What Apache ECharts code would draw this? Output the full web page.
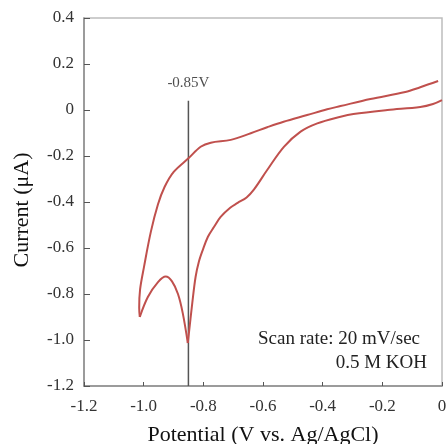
<!DOCTYPE html>
<html><head><meta charset="utf-8">
<script src="https://cdn.jsdelivr.net/npm/echarts@6/dist/echarts.min.js"></script>
<style>html,body{margin:0;padding:0;background:#fff}#c{width:446px;height:444px}</style>
</head><body><div id="c"></div>
<script>
// Forward (cathodic) scan: from 0 V toward -1.01 V
var forwardScan = [[-0.013,0.126],[-0.073,0.099],[-0.123,0.078],[-0.24,0.048],[-0.34,0.017],[-0.385,0.003],[-0.452,-0.022],[-0.531,-0.051],[-0.586,-0.075],[-0.641,-0.101],[-0.708,-0.130],[-0.775,-0.142],[-0.809,-0.160],[-0.849,-0.209],[-0.9,-0.27],[-0.93,-0.335],[-0.952,-0.41],[-0.976,-0.53],[-0.999,-0.683],[-1.012,-0.78],[-1.015,-0.86],[-1.013,-0.9]];
// Reverse scan, first part: vertex up to the small hump and down to the -0.85 V peak
var reverseScanA = [[-1.013,-0.9],[-0.986,-0.813],[-0.952,-0.748],[-0.926,-0.724],[-0.905,-0.745],[-0.885,-0.8],[-0.869,-0.883],[-0.852,-1.013]];
// Reverse scan, second part: from the peak back to 0 V
var reverseScanB = [[-0.852,-1.013],[-0.837,-0.839],[-0.826,-0.726],[-0.815,-0.66],[-0.802,-0.609],[-0.785,-0.552],[-0.765,-0.51],[-0.742,-0.465],[-0.71,-0.425],[-0.685,-0.404],[-0.655,-0.38],[-0.630,-0.345],[-0.586,-0.261],[-0.530,-0.16],[-0.474,-0.094],[-0.418,-0.058],[-0.34,-0.029],[-0.297,-0.017],[-0.183,0.0],[-0.073,0.013],[-0.03,0.026],[0,0.043]];
var peakMarker = [[-0.85,-1.2],[-0.85,0.04]];
var peakLabel = '-0.85V';
var noteLines = ['Scan rate: 20 mV/sec','0.5 M KOH'];
var xTitle = 'Potential (V vs. Ag/AgCl)';
var yTitle = 'Current (\u03bcA)';

var FONT = '"Liberation Serif","Times New Roman",serif';
var RED = '#c0504d';
function fmt(v){ return Math.abs(v) < 1e-9 ? '0' : v.toFixed(1); }
var chart = echarts.init(document.getElementById('c'), null, {renderer:'canvas'});
function curve(d){
  return {type:'line', data:d, smooth:0.35, showSymbol:false, symbol:'none',
    lineStyle:{color:RED, width:2}, z:3, silent:true};
}
chart.setOption({
  animation:false,
  backgroundColor:'#fff',
  grid:{left:84, right:4, top:18, bottom:58, show:true, borderColor:'#bdbdbd', borderWidth:1.5,
    containLabel:false, outerBoundsMode:'none'},
  xAxis:{type:'value', min:-1.2, max:0, interval:0.2,
    name:xTitle, nameLocation:'middle', nameGap:38,
    nameTextStyle:{fontFamily:FONT, fontSize:22, color:'#111'},
    axisLine:{show:true, onZero:false, lineStyle:{color:'#8a8a8a', width:1.5}},
    axisTick:{show:true, inside:true, length:4, lineStyle:{color:'#555'}},
    axisLabel:{fontFamily:FONT, fontSize:17, color:'#333', margin:12, formatter:fmt},
    splitLine:{show:false}},
  yAxis:{type:'value', min:-1.2, max:0.4, interval:0.2,
    axisLine:{show:true, onZero:false, lineStyle:{color:'#8a8a8a', width:1.5}},
    axisTick:{show:true, inside:true, length:6, lineStyle:{color:'#555'}},
    axisLabel:{fontFamily:FONT, fontSize:17, color:'#333', margin:10, formatter:fmt},
    splitLine:{show:false}},
  graphic:[
    {type:'text', x:22, y:210, rotation:Math.PI/2,
      style:{text:yTitle, font:'22px '+FONT, fill:'#111', textAlign:'center', textVerticalAlign:'middle'}},
    {type:'text', x:420, y:339, style:{text:noteLines[0], font:'19px '+FONT, fill:'#222', textAlign:'right', textVerticalAlign:'middle'}},
    {type:'text', x:427, y:363, style:{text:noteLines[1], font:'19px '+FONT, fill:'#222', textAlign:'right', textVerticalAlign:'middle'}}
  ],
  series:[
    {type:'line', data:peakMarker, showSymbol:false, symbol:'none', silent:true, z:2,
      lineStyle:{color:'#555', width:1.5}},
    {type:'scatter', data:[peakMarker[1]], symbolSize:0, silent:true,
      label:{show:true, position:'top', distance:10, formatter:peakLabel,
        fontFamily:FONT, fontSize:15, color:'#222'}},
    curve(forwardScan), curve(reverseScanA), curve(reverseScanB)
  ]
});
</script></body></html>
